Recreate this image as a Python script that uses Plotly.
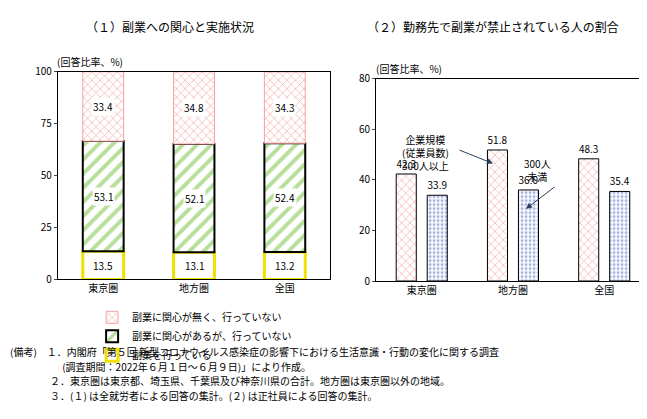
import plotly.graph_objects as go

regions = ["東京圏", "地方圏", "全国"]
doing = [13.5, 13.1, 13.2]
interested = [53.1, 52.1, 52.4]
not_interested = [33.4, 34.8, 34.3]
large = [42.3, 51.8, 48.3]
small = [33.9, 36.0, 35.4]

F = "Noto Sans CJK JP"
base2 = doing
base3 = [a + b for a, b in zip(doing, interested)]
fig = go.Figure()
fig.add_bar(x=regions, y=doing, name="副業を行っている", width=0.45,
            marker=dict(color="white", line=dict(color="#f0e000", width=3)),
            xaxis="x", yaxis="y")
fig.add_bar(x=regions, y=interested, base=base2, name="副業に関心があるが、行っていない", width=0.45,
            marker=dict(color="white", line=dict(color="black", width=2),
                        pattern=dict(shape="/", fgcolor="#6fbf3a", size=10, solidity=0.4)),
            xaxis="x", yaxis="y")
fig.add_bar(x=regions, y=not_interested, base=base3, name="副業に関心が無く、行っていない", width=0.45,
            marker=dict(color="white", line=dict(color="#f5a0a0", width=1),
                        pattern=dict(shape="x", fgcolor="#e84040", size=6, solidity=0.2)),
            xaxis="x", yaxis="y")
for vals, bs in ((doing, [0, 0, 0]), (interested, base2), (not_interested, base3)):
    for i, v in enumerate(vals):
        fig.add_annotation(x=regions[i], y=bs[i] + v / 2, xref="x", yref="y", text=f"{v:.1f}",
                           showarrow=False, bgcolor="white", font=dict(size=10, family=F))

fig.add_bar(x=regions, y=large, name="300人以上", showlegend=False, width=0.22, offset=-0.28,
            marker=dict(color="white", line=dict(color="black", width=1),
                        pattern=dict(shape="x", fgcolor="#e84040", size=6, solidity=0.2)),
            text=[f"{v:.1f}" for v in large], textposition="outside", textangle=0, cliponaxis=False,
            textfont=dict(size=10, family=F), xaxis="x2", yaxis="y2")
fig.add_bar(x=regions, y=small, name="300人未満", showlegend=False, width=0.22, offset=0.06,
            marker=dict(color="white", line=dict(color="black", width=1),
                        pattern=dict(shape=".", fgcolor="#4060c0", size=4, solidity=0.4)),
            text=[f"{v:.1f}" for v in small], textposition="outside", textangle=0, cliponaxis=False,
            textfont=dict(size=10, family=F), xaxis="x2", yaxis="y2")

ax = dict(showline=True, linecolor="black", mirror=True, tickfont=dict(size=10, family=F))
fig.update_layout(
    width=647, height=419, margin=dict(l=0, r=0, t=0, b=0), barmode="overlay",
    plot_bgcolor="white", paper_bgcolor="white", font=dict(family=F, size=10, color="black"),
    xaxis=dict(domain=[0.077, 0.498], anchor="y", ticks="", **ax),
    yaxis=dict(domain=[0.348, 0.862], anchor="x", range=[0, 100], dtick=25, ticks="outside",
               ticklen=3, showgrid=False, **ax),
    xaxis2=dict(domain=[0.569, 0.992], anchor="y2", ticks="", **ax),
    yaxis2=dict(domain=[0.344, 0.845], anchor="x2", range=[0, 80], dtick=20, ticks="outside",
                ticklen=3, showgrid=False, **ax),
    legend=dict(x=0.13, y=0.29, xanchor="left", yanchor="top", traceorder="reversed",
                font=dict(size=10, family=F), tracegroupgap=0),
)
ann = [
    (0.25, 0.975, "（１）副業への関心と実施状況", 12, "center", "middle"),
    (0.75, 0.975, "（２）勤務先で副業が禁止されている人の割合", 12, "center", "middle"),
    (0.072, 0.864, "(回答比率、%)", 10, "left", "bottom"),
    (0.566, 0.847, "(回答比率、%)", 10, "left", "bottom"),
]
for x, y, t, s, xa, ya in ann:
    fig.add_annotation(x=x, y=y, xref="paper", yref="paper", text=t, showarrow=False,
                       font=dict(size=s, family=F), xanchor=xa, yanchor=ya)
fig.add_annotation(x=443/647, y=1-118/419, xref="paper", yref="paper", showarrow=False,
                   text="企業規模<br>(従業員数)<br>300人以上", font=dict(size=10, family=F))
fig.add_annotation(x=545/647, y=1-160/419, xref="paper", yref="paper", showarrow=False,
                   text="300人<br>未満", font=dict(size=10, family=F))
fig.add_annotation(x=485/647, y=1-153/419, xref="paper", yref="paper", text="", showarrow=True,
                   ax=-35, ay=-14, arrowhead=2, arrowsize=1.2, arrowwidth=1)
fig.add_annotation(x=518/647, y=1-200/419, xref="paper", yref="paper", text="", showarrow=True,
                   ax=30, ay=-23, arrowhead=2, arrowsize=1.2, arrowwidth=1)
notes = ["(備考)　１．内閣府「第５回 新型コロナウイルス感染症の影響下における生活意識・行動の変化に関する調査",
         "　　　　　 (調査期間：2022年６月１日～６月９日)」により作成。",
         "　　　　２．東京圏は東京都、埼玉県、千葉県及び神奈川県の合計。地方圏は東京圏以外の地域。",
         "　　　　３．(１) は全就労者による回答の集計。(２) は正社員による回答の集計。"]
for i, t in enumerate(notes):
    fig.add_annotation(x=0.0, y=1-(358+i*15)/419, xref="paper", yref="paper", text=t,
                       showarrow=False, xanchor="left", font=dict(size=10, family=F))
fig.write_html("out.html")
